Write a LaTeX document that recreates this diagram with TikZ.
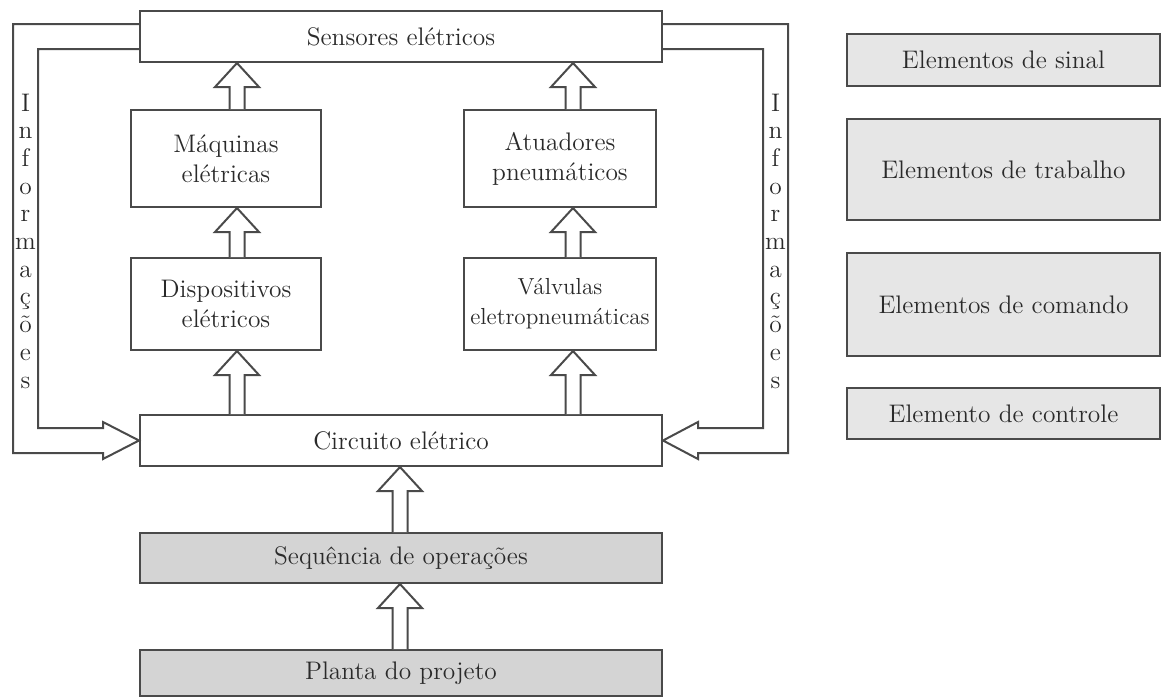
\documentclass[tikz,border=0pt]{standalone}
\usetikzlibrary{calc}
\definecolor{ln}{HTML}{4A4A4A}
\definecolor{tx}{HTML}{2A2A2A}
\definecolor{dk}{HTML}{D4D4D4}
\definecolor{lt}{HTML}{E6E6E6}
\newcommand\hollowup[3]{%
  \coordinate (hb) at (#2.north -| #1);
  \coordinate (ht) at (#3.south -| #1);
  \draw[harrow] ($(hb)+(-7.5,0)$) -- ($(ht)+(-7.5,24)$) -- ($(ht)+(-22,24)$) -- (ht)
     -- ($(ht)+(22,24)$) -- ($(ht)+(7.5,24)$) -- ($(hb)+(7.5,0)$);
}
\begin{document}
\begin{tikzpicture}[x=0.5pt,y=-0.5pt,
  box/.style={draw=ln, line width=1pt, rectangle, inner sep=0pt, text=tx, align=center,
              font=\fontsize{12.7}{15}\selectfont},
  harrow/.style={draw=ln, line width=1pt, fill=white, line join=miter},
  loopline/.style={draw=ln, line width=1pt, line join=miter},
  letter/.style={text=tx, font=\fontsize{12.7}{15}\selectfont, inner sep=0pt, anchor=base}]
\useasboundingbox (0,0) rectangle (1162,698);

% main boxes
\node[box, minimum width=261pt, minimum height=25.5pt] (sens) at (401,36.5) {Sensores elétricos};
\node[box, minimum width=95pt, minimum height=48.5pt] (maq) at (226,158.5) {Máquinas\\elétricas};
\node[box, minimum width=96pt, minimum height=48.5pt] (atu) at (560,158.5) {Atuadores\\pneumáticos};
\node[box, minimum width=95pt, minimum height=46pt] (disp) at (226,304) {Dispositivos\\elétricos};
\node[box, minimum width=96pt, minimum height=46pt, font=\fontsize{11.6}{15}\selectfont] (valv) at (560,304) {Válvulas\\eletropneumáticas};
\node[box, minimum width=261pt, minimum height=25.5pt] (circ) at (401,440.5) {Circuito elétrico};
\node[box, fill=dk, minimum width=261pt, minimum height=25pt] (seq) at (401,558) {Sequência de operações};
\node[box, fill=dk, minimum width=261pt, minimum height=23pt] (plan) at (401,673) {Planta do projeto};

% legend boxes
\node[box, fill=lt, minimum width=156.5pt, minimum height=26pt] (sinal) at (1003.5,60) {Elementos de sinal};
\node[box, fill=lt, minimum width=156.5pt, minimum height=50.5pt] (trab) at (1003.5,169.5) {Elementos de trabalho};
\node[box, fill=lt, minimum width=156.5pt, minimum height=51.5pt] (com) at (1003.5,304.5) {Elementos de comando};
\node[box, fill=lt, minimum width=156.5pt, minimum height=25.5pt] (ctrl) at (1003.5,413.5) {Elemento de controle};

% columns for arrows
\coordinate (colL) at (237,0);
\coordinate (colR) at (573,0);
\coordinate (colC) at (400,0);

\hollowup{colL}{maq}{sens}
\hollowup{colR}{atu}{sens}
\hollowup{colL}{disp}{maq}
\hollowup{colR}{valv}{atu}
\hollowup{colL}{circ}{disp}
\hollowup{colR}{circ}{valv}
\hollowup{colC}{seq}{circ}
\hollowup{colC}{plan}{seq}

% feedback loops
\draw[loopline] ($(sens.west)+(0,-12.5)$) -- (13,24) -- (13,453) -- (103,453) -- (103,459)
   -- (circ.west) -- (103,422) -- (103,428) -- (38,428) -- (38,49) -- ($(sens.west)+(0,12.5)$);
\draw[loopline] ($(sens.east)+(0,-12.5)$) -- (788,24) -- (788,453) -- (698,453) -- (698,459)
   -- (circ.east) -- (698,422) -- (698,428) -- (763,428) -- (763,49) -- ($(sens.east)+(0,12.5)$);

% vertical labels
\foreach \l [count=\i from 0] in {I,n,f,o,r,m,a,ç,õ,e,s} {
  \node[letter] (iL\i) at (25.5,{111+\i*27.7}) {\l};
  \node[letter] (iR\i) at (775.5,{111+\i*27.7}) {\l};
}
\end{tikzpicture}
\end{document}
